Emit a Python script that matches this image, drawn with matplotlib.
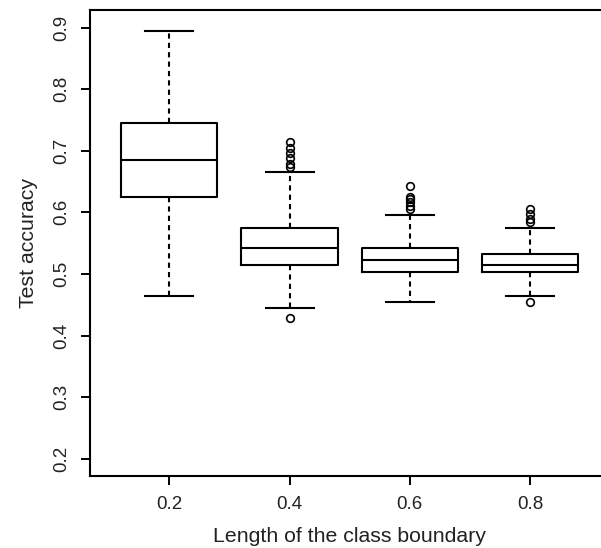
#!/usr/bin/env python3
"""Boxplot of test accuracy against length of the class boundary (R-style)."""

import matplotlib

matplotlib.use("Agg")

import matplotlib.pyplot as plt

plt.rcParams["font.family"] = ["Liberation Sans", "DejaVu Sans"]

# values
BOUNDARY_LABELS = ["0.2", "0.4", "0.6", "0.8"]
WHISKER_LOW = [0.464, 0.444, 0.454, 0.465]
Q1 = [0.625, 0.514, 0.503, 0.503]
MEDIAN = [0.685, 0.542, 0.523, 0.514]
Q3 = [0.745, 0.575, 0.542, 0.533]
WHISKER_HIGH = [0.894, 0.666, 0.595, 0.575]
OUTLIERS = [
    [],
    [0.428, 0.673, 0.679, 0.688, 0.696, 0.704, 0.714],
    [0.606, 0.611, 0.616, 0.621, 0.625, 0.643],
    [0.455, 0.584, 0.589, 0.597, 0.605],
]


def main() -> None:
    fig = plt.figure(figsize=(6.01, 5.48), dpi=100)
    ax = fig.add_axes([0.1498, 0.1314, 0.864, 0.8498])

    stats = []
    for i, label in enumerate(BOUNDARY_LABELS):
        stats.append(
            {
                "label": label,
                "whislo": WHISKER_LOW[i],
                "q1": Q1[i],
                "med": MEDIAN[i],
                "q3": Q3[i],
                "whishi": WHISKER_HIGH[i],
                "fliers": OUTLIERS[i],
            }
        )

    line_kw = dict(color="black", linewidth=1.5)
    ax.bxp(
        stats,
        positions=[1, 2, 3, 4],
        widths=0.8,
        showfliers=True,
        boxprops=line_kw,
        medianprops=line_kw,
        whiskerprops=dict(color="black", linewidth=1.5, linestyle=(0, (2.5, 2))),
        capprops=line_kw,
        capwidths=0.4,
        flierprops=dict(
            marker="o",
            markerfacecolor="none",
            markeredgecolor="black",
            markersize=5.5,
            markeredgewidth=1.2,
            linestyle="none",
        ),
    )

    ax.set_xlim(0.34, 4.66)
    ax.set_ylim(0.172, 0.928)
    ax.set_yticks([0.2, 0.3, 0.4, 0.5, 0.6, 0.7, 0.8, 0.9])
    ax.set_yticklabels(["0.2", "0.3", "0.4", "0.5", "0.6", "0.7", "0.8", "0.9"],
                       rotation=90, va="center")
    ax.set_xticks([1, 2, 3, 4])
    ax.set_xticklabels(BOUNDARY_LABELS)
    ax.tick_params(axis="both", direction="out", length=6.5, width=1.4,
                   labelsize=13.5, pad=8, color="black", labelcolor="#222222")

    for spine in ax.spines.values():
        spine.set_linewidth(1.5)

    ax.set_xlabel("Length of the class boundary", fontsize=15.3, labelpad=10, color="#222222")
    ax.set_ylabel("Test accuracy", fontsize=15.3, labelpad=11, color="#222222")

    fig.savefig("out.png", dpi=100)
    plt.close(fig)


if __name__ == "__main__":
    main()
